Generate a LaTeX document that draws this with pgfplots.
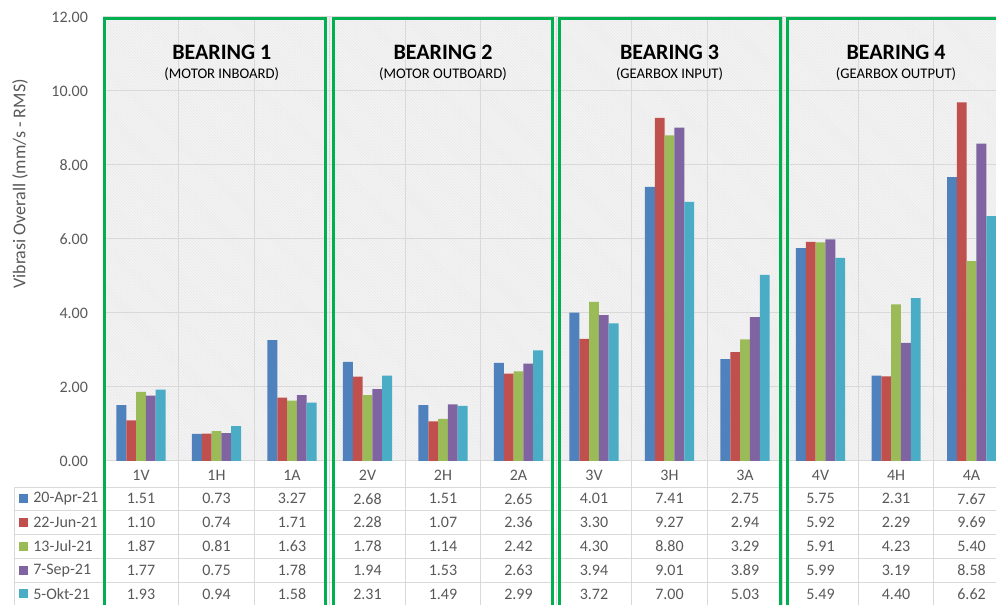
\documentclass[border=0pt]{standalone}
\usepackage{fontspec}
\setmainfont{Carlito}
\usepackage{pgfplots}
\pgfplotsset{compat=1.18}
\usepackage{pgfplotstable}
\usetikzlibrary{patterns.meta}

\definecolor{s_blue}{HTML}{4F81BD}
\definecolor{s_red}{HTML}{C0504D}
\definecolor{s_green}{HTML}{9BBB59}
\definecolor{s_purple}{HTML}{8064A2}
\definecolor{s_aqua}{HTML}{4BACC6}
\definecolor{box_green}{HTML}{00B050}
\definecolor{txt_gray}{HTML}{595959}
\definecolor{grid_gray}{HTML}{D9D9D9}
\definecolor{bg_gray}{HTML}{F4F4F4}

\pgfplotstableread{
cat s1 s2 s3 s4 s5
1V 1.51 1.10 1.87 1.77 1.93
1H 0.73 0.74 0.81 0.75 0.94
1A 3.27 1.71 1.63 1.78 1.58
2V 2.68 2.28 1.78 1.94 2.31
2H 1.51 1.07 1.14 1.53 1.49
2A 2.65 2.36 2.42 2.63 2.99
3V 4.01 3.30 4.30 3.94 3.72
3H 7.41 9.27 8.80 9.01 7.00
3A 2.75 2.94 3.29 3.89 5.03
4V 5.75 5.92 5.91 5.99 5.49
4H 2.31 2.29 4.23 3.19 4.40
4A 7.67 9.69 5.40 8.58 6.62
}\data

\newcommand{\tabfont}{\fontsize{12}{14}\selectfont}

\begin{document}
\begin{tikzpicture}
\useasboundingbox (0,0) rectangle (747pt,453.75pt);
\clip (0,0) rectangle (747pt,453.75pt);
\begin{axis}[
  at={(77.44pt,108pt)}, anchor=south west,
  scale only axis, width=669.56pt, height=333pt,
  xmin=-0.5, xmax=11.324, ymin=0, ymax=12,
  clip=false,
  axis line style={draw=none},
  tick style={draw=none},
  xtick=\empty,
  ytick={0,2,...,12},
  ymajorgrids,
  grid style={grid_gray, line width=0.75pt},
  /pgf/number format/assume math mode=true,
  yticklabel style={font=\tabfont, text=txt_gray, xshift=-8pt,
    /pgf/number format/.cd, fixed, fixed zerofill, precision=2},
  axis background/.style={fill=bg_gray,
    postaction={pattern={Lines[angle=-45,distance=1.6pt,line width=0.45pt]},
      pattern color=black!9}},
  ylabel={Vibrasi Overall (mm/s - RMS)},
  every axis y label/.style={at={(axis description cs:-0.0933,0.624)},
    rotate=90, anchor=center, font=\fontsize{13.5}{16}\selectfont, text=txt_gray},
]
% bars
\addplot[ybar, bar width=0.13, bar shift=-0.26, fill=s_blue, draw=none] table[x expr=\coordindex, y=s1]{\data};
\addplot[ybar, bar width=0.13, bar shift=-0.13, fill=s_red, draw=none] table[x expr=\coordindex, y=s2]{\data};
\addplot[ybar, bar width=0.13, bar shift=0, fill=s_green, draw=none] table[x expr=\coordindex, y=s3]{\data};
\addplot[ybar, bar width=0.13, bar shift=0.13, fill=s_purple, draw=none] table[x expr=\coordindex, y=s4]{\data};
\addplot[ybar, bar width=0.13, bar shift=0.26, fill=s_aqua, draw=none] table[x expr=\coordindex, y=s5]{\data};

% vertical separators through plot and table
\foreach \xx in {0.5,1.5,2.5,3.5,4.5,5.5,6.5,7.5,8.5,9.5,10.5}{
  \edef\tmp{\noexpand\draw[grid_gray, line width=0.75pt] (axis cs:\xx,12) -- (axis cs:\xx,-4);}
  \tmp
}
\draw[grid_gray, line width=0.75pt] (axis cs:-0.5,0) -- (axis cs:-0.5,-4);
\draw[grid_gray, line width=0.75pt] (axis cs:-1.682,-0.703) -- (axis cs:-1.682,-4);
\foreach \yy in {-0.703,-1.346,-1.989,-2.632,-3.276}{
  \edef\tmp{\noexpand\draw[grid_gray, line width=0.75pt] (axis cs:-1.682,\yy) -- (axis cs:11.5,\yy);}
  \tmp
}

% data table: category row
\addplot[draw=none, point meta=explicit symbolic, nodes near coords={\pgfplotspointmeta},
  nodes near coords style={anchor=center, font=\tabfont, text=txt_gray}]
  table[x expr=\coordindex, y expr=-0.378, meta=cat]{\data};
% data table: value rows
\addplot[draw=none, point meta=\thisrow{s1},
  nodes near coords={\pgfmathprintnumber[fixed,fixed zerofill,precision=2]{\pgfplotspointmeta}},
  nodes near coords style={anchor=center, font=\tabfont, text=txt_gray}]
  table[x expr=\coordindex, y expr=-1.019]{\data};
\addplot[draw=none, point meta=\thisrow{s2},
  nodes near coords={\pgfmathprintnumber[fixed,fixed zerofill,precision=2]{\pgfplotspointmeta}},
  nodes near coords style={anchor=center, font=\tabfont, text=txt_gray}]
  table[x expr=\coordindex, y expr=-1.662]{\data};
\addplot[draw=none, point meta=\thisrow{s3},
  nodes near coords={\pgfmathprintnumber[fixed,fixed zerofill,precision=2]{\pgfplotspointmeta}},
  nodes near coords style={anchor=center, font=\tabfont, text=txt_gray}]
  table[x expr=\coordindex, y expr=-2.305]{\data};
\addplot[draw=none, point meta=\thisrow{s4},
  nodes near coords={\pgfmathprintnumber[fixed,fixed zerofill,precision=2]{\pgfplotspointmeta}},
  nodes near coords style={anchor=center, font=\tabfont, text=txt_gray}]
  table[x expr=\coordindex, y expr=-2.949]{\data};
\addplot[draw=none, point meta=\thisrow{s5},
  nodes near coords={\pgfmathprintnumber[fixed,fixed zerofill,precision=2]{\pgfplotspointmeta}},
  nodes near coords style={anchor=center, font=\tabfont, text=txt_gray}]
  table[x expr=\coordindex, y expr=-3.592]{\data};

% legend column
\node[fill=s_blue, minimum size=6.75pt, inner sep=0pt] at (axis cs:-1.557,-1.019) {};
\node[fill=s_red, minimum size=6.75pt, inner sep=0pt] at (axis cs:-1.557,-1.662) {};
\node[fill=s_green, minimum size=6.75pt, inner sep=0pt] at (axis cs:-1.557,-2.305) {};
\node[fill=s_purple, minimum size=6.75pt, inner sep=0pt] at (axis cs:-1.557,-2.949) {};
\node[fill=s_aqua, minimum size=6.75pt, inner sep=0pt] at (axis cs:-1.557,-3.592) {};
\node[anchor=west, inner sep=0pt, font=\tabfont, text=txt_gray] at (axis cs:-1.43,-1.019) {20-Apr-21};
\node[anchor=west, inner sep=0pt, font=\tabfont, text=txt_gray] at (axis cs:-1.43,-1.662) {22-Jun-21};
\node[anchor=west, inner sep=0pt, font=\tabfont, text=txt_gray] at (axis cs:-1.43,-2.305) {13-Jul-21};
\node[anchor=west, inner sep=0pt, font=\tabfont, text=txt_gray] at (axis cs:-1.43,-2.949) {7-Sep-21};
\node[anchor=west, inner sep=0pt, font=\tabfont, text=txt_gray] at (axis cs:-1.43,-3.592) {5-Okt-21};

% group titles
\node[font=\bfseries\fontsize{16.5}{19}\selectfont] at (axis cs:1.07,11.04) {BEARING 1};
\node[font=\fontsize{11}{13}\selectfont] at (axis cs:1.07,10.46) {(MOTOR INBOARD)};
\node[font=\bfseries\fontsize{16.5}{19}\selectfont] at (axis cs:4,11.04) {BEARING 2};
\node[font=\fontsize{11}{13}\selectfont] at (axis cs:4,10.46) {(MOTOR OUTBOARD)};
\node[font=\bfseries\fontsize{16.5}{19}\selectfont] at (axis cs:7,11.04) {BEARING 3};
\node[font=\fontsize{11}{13}\selectfont] at (axis cs:7,10.46) {(GEARBOX INPUT)};
\node[font=\bfseries\fontsize{16.5}{19}\selectfont] at (axis cs:10,11.04) {BEARING 4};
\node[font=\fontsize{11}{13}\selectfont] at (axis cs:10,10.46) {(GEARBOX OUTPUT)};

% green group frames
\draw[box_green, line width=2.25pt, line join=miter] (axis cs:-0.49,-4.5) -- (axis cs:-0.49,11.97) -- (axis cs:2.437,11.97) -- (axis cs:2.437,-4.5);
\draw[box_green, line width=2.25pt, line join=miter] (axis cs:2.543,-4.5) -- (axis cs:2.543,11.97) -- (axis cs:5.444,11.97) -- (axis cs:5.444,-4.5);
\draw[box_green, line width=2.25pt, line join=miter] (axis cs:5.537,-4.5) -- (axis cs:5.537,11.97) -- (axis cs:8.464,11.97) -- (axis cs:8.464,-4.5);
\draw[box_green, line width=2.25pt, line join=miter] (axis cs:8.556,-4.5) -- (axis cs:8.556,11.97) -- (axis cs:11.8,11.97) -- (axis cs:11.8,-4.5);
\end{axis}
\end{tikzpicture}
\end{document}
